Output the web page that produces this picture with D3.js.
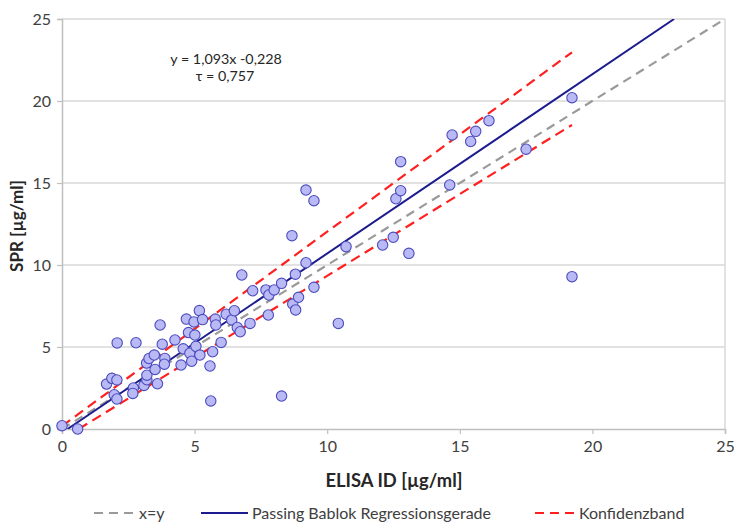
<!DOCTYPE html>
<html>
<head>
<meta charset="utf-8">
<script src="https://cdn.jsdelivr.net/npm/d3@7"></script>
<style>
  html, body { margin: 0; padding: 0; background: #fff; }
  svg { display: block; font-family: Lato, "Open Sans", "Liberation Sans", sans-serif; }
</style>
</head>
<body>
<svg id="chart" width="734" height="523"></svg>
<script>
// ---- Data ----
const elisa = [0.00,0.59,1.68,1.88,2.07,1.97,2.07,2.08,2.79,2.69,2.67,3.09,3.20,3.20,3.19,3.28,3.48,3.51,3.60,3.70,3.78,3.88,3.86,4.26,4.49,4.57,4.69,4.77,4.82,4.89,4.98,5.01,5.05,5.18,5.20,5.30,5.58,5.61,5.68,5.78,5.80,6.00,6.19,6.40,6.50,6.61,6.72,6.78,7.09,7.19,7.69,7.80,7.78,8.00,8.28,8.28,8.67,8.70,8.80,8.81,8.92,9.20,9.20,9.50,9.50,10.42,10.71,12.09,12.49,12.59,12.77,12.77,13.08,14.62,14.71,15.41,15.60,16.10,17.50,19.23,19.23];
const spr   = [0.20,0.00,2.74,3.09,2.99,2.09,1.83,5.25,5.26,2.50,2.17,2.66,3.00,3.28,4.02,4.30,4.51,3.63,2.76,6.34,5.17,4.30,3.95,5.43,3.90,4.89,6.70,5.88,4.62,4.13,6.53,5.73,5.04,7.22,4.51,6.67,3.84,1.71,4.71,6.70,6.34,5.28,7.00,6.65,7.21,6.19,5.93,9.39,6.44,8.43,8.48,8.17,6.95,8.48,8.88,2.01,11.79,7.62,9.44,7.26,8.03,10.14,14.57,13.92,8.64,6.44,11.12,11.22,11.69,14.04,14.53,16.30,10.71,14.88,17.93,17.53,18.15,18.80,17.06,20.20,9.29];

// line endpoints in data units
const identityX = [0, 25];
const identityY = [0, 25];
const regSlope = 1.093;
const regIntercept = -0.228;
const regX = [0.21, 23.08];
const bandUpperX = [0, 19.23];
const bandUpperY = [0.18, 22.97];
const bandLowerX = [0.63, 19.23];
const bandLowerY = [0.0, 18.54];

const xTicks = [0, 5, 10, 15, 20, 25];
const yTicks = [0, 5, 10, 15, 20, 25];

const xTitle = "ELISA ID [µg/ml]";
const yTitle = "SPR [µg/ml]";
const eqText = "y = 1,093x -0,228";
const tauText = "τ = 0,757";
const legendLabels = ["x=y", "Passing Bablok Regressionsgerade", "Konfidenzband"];

// ---- Layout ----
const W = 734, H = 523;
const margin = {left: 62, right: 9, top: 19, bottom: 94};
const svg = d3.select("#chart");

const x = d3.scaleLinear().domain([0, 25]).range([margin.left, W - margin.right]);
const y = d3.scaleLinear().domain([0, 25]).range([H - margin.bottom, margin.top]);

const gridColor = "#d9d9d9";
const axisColor = "#bfbfbf";
const textColor = "#404040";

// helper: size a text node so it spans a target width
function fitWidth(sel, target) {
  const n = sel.node();
  const fs = parseFloat(sel.attr("font-size"));
  const w = n.getComputedTextLength();
  if (w > 0) sel.attr("font-size", (fs * target / w).toFixed(2));
}

// gridlines
svg.append("g").selectAll("line").data(yTicks.filter(d => d > 0)).join("line")
  .attr("x1", x(0)).attr("x2", x(25))
  .attr("y1", d => y(d)).attr("y2", d => y(d))
  .attr("stroke", gridColor).attr("stroke-width", 1.5);

// right border of plot area
svg.append("line")
  .attr("x1", x(25)).attr("x2", x(25)).attr("y1", y(25)).attr("y2", y(0))
  .attr("stroke", gridColor).attr("stroke-width", 1.5);

// axes
const xAxis = d3.axisBottom(x).tickValues(xTicks).tickSize(5).tickPadding(7).tickFormat(d3.format("d"));
const yAxis = d3.axisLeft(y).tickValues(yTicks).tickSize(5).tickPadding(6).tickFormat(d3.format("d"));

const gx = svg.append("g").attr("transform", `translate(0,${y(0)})`).call(xAxis);
const gy = svg.append("g").attr("transform", `translate(${x(0)},0)`).call(yAxis);
[gx, gy].forEach(g => {
  g.select(".domain").attr("stroke", axisColor).attr("stroke-width", 1.5);
  g.selectAll(".tick line").attr("stroke", axisColor).attr("stroke-width", 1.2);
  g.selectAll(".tick text").attr("fill", textColor).attr("font-size", 16)
    .attr("font-family", "Lato, 'Open Sans', sans-serif");
});

// clip
svg.append("clipPath").attr("id", "plotclip").append("rect")
  .attr("x", x(0)).attr("y", y(25)).attr("width", x(25) - x(0)).attr("height", y(0) - y(25));

const lines = svg.append("g").attr("clip-path", "url(#plotclip)");
const line = d3.line().x(d => x(d[0])).y(d => y(d[1]));

// x=y
lines.append("path").datum(d3.zip(identityX, identityY)).attr("d", line)
  .attr("fill", "none").attr("stroke", "#9a9a9a").attr("stroke-width", 2.2).attr("stroke-dasharray", "9,6");
// confidence band
lines.append("path").datum(d3.zip(bandUpperX, bandUpperY)).attr("d", line)
  .attr("fill", "none").attr("stroke", "#ff1f1f").attr("stroke-width", 2.2).attr("stroke-dasharray", "10,6");
lines.append("path").datum(d3.zip(bandLowerX, bandLowerY)).attr("d", line)
  .attr("fill", "none").attr("stroke", "#ff1f1f").attr("stroke-width", 2.2).attr("stroke-dasharray", "10,6");
// regression line
lines.append("path").datum(regX.map(v => [v, regSlope * v + regIntercept])).attr("d", line)
  .attr("fill", "none").attr("stroke", "#1c1c8e").attr("stroke-width", 2);

// points
const pts = d3.zip(elisa, spr);
svg.append("g").selectAll("circle").data(pts).join("circle")
  .attr("cx", d => x(d[0])).attr("cy", d => y(d[1])).attr("r", 5.2)
  .attr("fill", "#b9b9f6").attr("stroke", "#4b4bbd").attr("stroke-width", 1.1);

// axis titles
const xt = svg.append("text").attr("x", 394).attr("y", 487)
  .attr("text-anchor", "middle").attr("font-weight", "bold").attr("font-size", 14)
  .attr("fill", "#262626").text(xTitle);
fitWidth(xt, 137);
const yt = svg.append("text").attr("transform", `translate(23,226) rotate(-90)`)
  .attr("text-anchor", "middle").attr("font-weight", "bold").attr("font-size", 14)
  .attr("fill", "#262626").text(yTitle);
fitWidth(yt, 92);

// equation annotation
svg.append("text").attr("x", 226).attr("y", 64).attr("text-anchor", "middle")
  .attr("font-size", 14.3).attr("fill", "#262626").text(eqText);
svg.append("text").attr("x", 225).attr("y", 81).attr("text-anchor", "middle")
  .attr("font-size", 14.3).attr("fill", "#262626").text(tauText);

// legend
const legendY = 513;
const legend = [
  {x1: 94, x2: 135, tx: 139, color: "#9a9a9a", dash: "9,6", label: legendLabels[0]},
  {x1: 201, x2: 248, tx: 252, color: "#1c1c8e", dash: null, label: legendLabels[1]},
  {x1: 535, x2: 576, tx: 579, color: "#ff1f1f", dash: "9,6", label: legendLabels[2]}
];
const lg = svg.append("g").selectAll("g").data(legend).join("g");
lg.append("line").attr("x1", d => d.x1).attr("x2", d => d.x2)
  .attr("y1", legendY).attr("y2", legendY)
  .attr("stroke", d => d.color).attr("stroke-width", 2.2)
  .attr("stroke-dasharray", d => d.dash);
lg.append("text").attr("x", d => d.tx).attr("y", legendY).attr("dy", "0.35em")
  .attr("font-size", 16).attr("fill", textColor).text(d => d.label);
</script>
</body>
</html>
